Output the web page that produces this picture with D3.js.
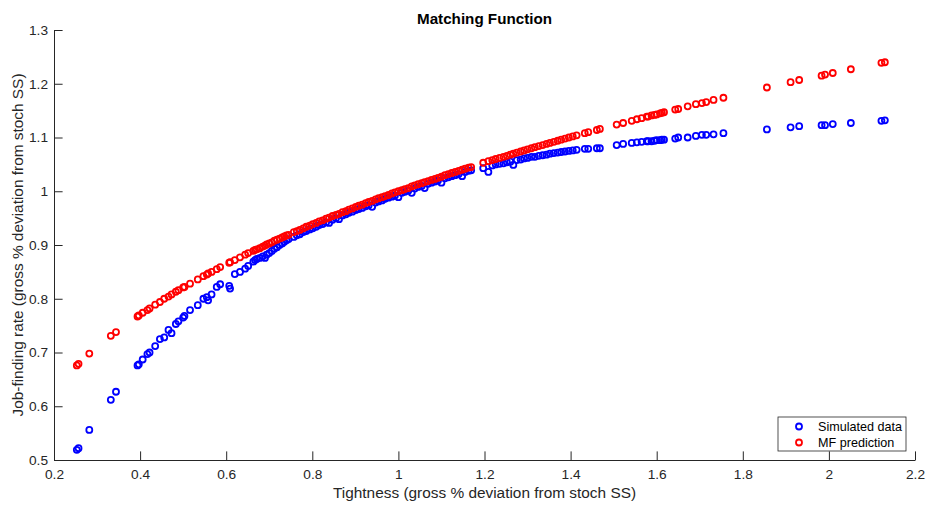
<!DOCTYPE html>
<html>
<head>
<meta charset="utf-8">
<script src="https://cdn.jsdelivr.net/npm/d3@7"></script>
<style>
	body { margin: 0; background: #fff; }
	svg { font-family: 'Liberation Sans', Arial, sans-serif; }
</style>
</head>
<body>
<svg width="927" height="506"></svg>
<script>
// matching function scatter: simulated vs predicted job-finding rate

// tightness (x) shared by both series
var tightness = [
	0.253, 0.257, 0.282, 0.332, 0.344,
	0.394, 0.397, 0.406, 0.417, 0.422, 0.435, 0.446, 0.456, 0.466, 0.473,
	0.483, 0.489, 0.500, 0.503, 0.516, 0.534, 0.547, 0.555, 0.558, 0.566,
	0.578, 0.586, 0.607, 0.609, 0.620, 0.632, 0.644, 0.651, 0.663, 0.667, 0.671,
	0.678, 0.685, 0.690, 0.694, 0.700, 0.706, 0.712, 0.718, 0.724, 0.730,
	0.735, 0.740, 0.745,
	0.757, 0.764, 0.771, 0.779, 0.786, 0.794, 0.801, 0.809, 0.816, 0.824,
	0.832, 0.839, 0.847, 0.855, 0.862, 0.870, 0.878, 0.885, 0.893, 0.901,
	0.908, 0.916, 0.924, 0.931, 0.939, 0.947, 0.954, 0.962, 0.969, 0.977,
	0.985, 0.992, 1.000, 1.008, 1.015, 1.023, 1.031, 1.038, 1.046, 1.054,
	1.061, 1.069, 1.077, 1.085, 1.092, 1.100, 1.108, 1.116, 1.124, 1.132,
	1.140, 1.148, 1.155, 1.163, 1.169,
	1.197, 1.209, 1.218, 1.226, 1.235, 1.244, 1.252, 1.260, 1.267, 1.275,
	1.284, 1.292, 1.300, 1.309, 1.317, 1.326, 1.335, 1.344, 1.352, 1.361,
	1.370, 1.378, 1.387, 1.396, 1.405, 1.414,
	1.433, 1.441, 1.461, 1.468, 1.507, 1.522, 1.542, 1.554, 1.565, 1.577,
	1.580, 1.588, 1.595, 1.600, 1.608, 1.612, 1.617, 1.643, 1.650, 1.672,
	1.691, 1.705, 1.715, 1.732, 1.755,
	1.856, 1.911, 1.931, 1.983, 1.991, 2.009, 2.051, 2.122, 2.130
];

// simulated data (blue)
var simulated = [
	0.519, 0.522, 0.556, 0.612, 0.627,
	0.676, 0.678, 0.687, 0.697, 0.700, 0.712, 0.725, 0.728, 0.742, 0.736,
	0.753, 0.758, 0.765, 0.768, 0.779, 0.788, 0.800, 0.803, 0.797, 0.808,
	0.822, 0.827, 0.824, 0.819, 0.846, 0.850, 0.856, 0.861, 0.869, 0.872, 0.874,
	0.876, 0.879, 0.876, 0.882, 0.885, 0.889, 0.893, 0.896, 0.900, 0.903,
	0.906, 0.909, 0.911,
	0.915, 0.918, 0.920, 0.924, 0.926, 0.929, 0.931, 0.934, 0.937, 0.939,
	0.942, 0.941, 0.947, 0.950, 0.948, 0.955, 0.957, 0.960, 0.962, 0.965,
	0.967, 0.969, 0.972, 0.974, 0.971, 0.979, 0.981, 0.983, 0.986, 0.988,
	0.990, 0.992, 0.989, 0.997, 0.999, 1.001, 0.997, 1.005, 1.008, 1.010,
	1.006, 1.014, 1.016, 1.018, 1.020, 1.016, 1.024, 1.026, 1.028, 1.030,
	1.032, 1.028, 1.036, 1.038, 1.039,
	1.043, 1.036, 1.048, 1.050, 1.051, 1.052, 1.054, 1.055, 1.049, 1.058,
	1.059, 1.061, 1.062, 1.064, 1.064, 1.066, 1.067, 1.068, 1.070, 1.071,
	1.072, 1.073, 1.074, 1.075, 1.076, 1.077,
	1.079, 1.079, 1.080, 1.080, 1.086, 1.088, 1.090, 1.091, 1.092, 1.093,
	1.093, 1.093, 1.094, 1.095, 1.095, 1.096, 1.096, 1.098, 1.100, 1.100,
	1.103, 1.105, 1.105, 1.106, 1.108,
	1.115, 1.119, 1.121, 1.123, 1.123, 1.125, 1.127, 1.131, 1.132
];

// MF prediction (red)
var predicted = [
	0.676, 0.679, 0.698, 0.731, 0.738,
	0.767, 0.769, 0.774, 0.779, 0.782, 0.789, 0.794, 0.800, 0.804, 0.808,
	0.813, 0.816, 0.821, 0.822, 0.828, 0.836, 0.842, 0.845, 0.847, 0.850,
	0.855, 0.859, 0.867, 0.868, 0.872, 0.877, 0.882, 0.885, 0.889, 0.891, 0.892,
	0.894, 0.897, 0.899, 0.901, 0.903, 0.905, 0.908, 0.910, 0.912, 0.914,
	0.916, 0.918, 0.919,
	0.924, 0.926, 0.928, 0.931, 0.934, 0.936, 0.939, 0.941, 0.944, 0.946,
	0.949, 0.951, 0.954, 0.956, 0.958, 0.961, 0.963, 0.966, 0.968, 0.971,
	0.973, 0.975, 0.978, 0.980, 0.982, 0.985, 0.987, 0.989, 0.991, 0.993,
	0.996, 0.998, 1.000, 1.002, 1.004, 1.006, 1.009, 1.011, 1.013, 1.015,
	1.017, 1.019, 1.021, 1.023, 1.025, 1.027, 1.030, 1.032, 1.034, 1.036,
	1.038, 1.040, 1.042, 1.044, 1.045,
	1.053, 1.056, 1.058, 1.060, 1.062, 1.064, 1.066, 1.068, 1.070, 1.072,
	1.074, 1.076, 1.078, 1.080, 1.082, 1.084, 1.086, 1.088, 1.090, 1.092,
	1.094, 1.096, 1.098, 1.100, 1.102, 1.104,
	1.108, 1.110, 1.114, 1.116, 1.124, 1.127, 1.131, 1.134, 1.136, 1.139,
	1.139, 1.141, 1.142, 1.143, 1.145, 1.146, 1.147, 1.152, 1.153, 1.158,
	1.162, 1.164, 1.166, 1.170, 1.174,
	1.193, 1.203, 1.207, 1.215, 1.217, 1.220, 1.227, 1.239, 1.240
];

var xTicks = [0.2, 0.4, 0.6, 0.8, 1, 1.2, 1.4, 1.6, 1.8, 2, 2.2];
var yTicks = [0.5, 0.6, 0.7, 0.8, 0.9, 1, 1.1, 1.2, 1.3];
var seriesNames = ['Simulated data', 'MF prediction'];
var seriesColors = ['#0000ff', '#ff0000'];

var svg = d3.select('svg');
var margin = { left: 54, right: 12, top: 30, bottom: 46 };
var width = +svg.attr('width'),
	height = +svg.attr('height');
var axisColor = '#262626';

var x = d3.scaleLinear().domain([0.2, 2.2]).range([margin.left, width - margin.right]);
var y = d3.scaleLinear().domain([0.5, 1.3]).range([height - margin.bottom, margin.top]);

var fmt = function(d) { return String(+d.toFixed(1)); };

// axes, ticks pointing inward
var gx = svg.append('g')
	.attr('transform', 'translate(0,' + (height - margin.bottom) + ')')
	.call(d3.axisBottom(x).tickValues(xTicks).tickFormat(fmt).tickSizeInner(-8.6).tickSizeOuter(0).tickPadding(9.5));
var gy = svg.append('g')
	.attr('transform', 'translate(' + margin.left + ',0)')
	.call(d3.axisLeft(y).tickValues(yTicks).tickFormat(fmt).tickSizeInner(-8.6).tickSizeOuter(0).tickPadding(6));

[gx, gy].forEach(function(g) {
	g.attr('font-family', null).attr('font-size', 13.7);
	g.selectAll('path, line').attr('stroke', axisColor);
	g.selectAll('text').attr('fill', axisColor);
});

// points, blue first then red on top
var plot = svg.append('g');
[simulated, predicted].forEach(function(vals, s) {
	plot.append('g')
		.selectAll('circle')
		.data(tightness.map(function(t, i) { return [t, vals[i]]; }))
		.enter()
		.append('circle')
		.attr('cx', function(d) { return x(d[0]); })
		.attr('cy', function(d) { return y(d[1]); })
		.attr('r', 3)
		.attr('fill', 'none')
		.attr('stroke', seriesColors[s])
		.attr('stroke-width', 1.8);
});

// title and axis labels
svg.append('text')
	.attr('x', (x.range()[0] + x.range()[1]) / 2)
	.attr('y', 24)
	.attr('text-anchor', 'middle')
	.attr('font-size', 15.2)
	.attr('font-weight', 'bold')
	.attr('fill', '#000')
	.text('Matching Function');

svg.append('text')
	.attr('x', (x.range()[0] + x.range()[1]) / 2)
	.attr('y', 498)
	.attr('text-anchor', 'middle')
	.attr('font-size', 15.4)
	.attr('fill', axisColor)
	.text('Tightness (gross % deviation from stoch SS)');

svg.append('text')
	.attr('transform', 'translate(22.5,' + (y.range()[0] + y.range()[1]) / 2 + ') rotate(-90)')
	.attr('text-anchor', 'middle')
	.attr('font-size', 15.4)
	.attr('fill', axisColor)
	.text('Job-finding rate (gross % deviation from stoch SS)');

// legend
var legend = svg.append('g').attr('transform', 'translate(778,417)');
legend.append('rect')
	.attr('width', 128)
	.attr('height', 34)
	.attr('fill', '#fff')
	.attr('stroke', axisColor)
	.attr('stroke-width', 0.8);
seriesNames.forEach(function(name, i) {
	legend.append('circle')
		.attr('cx', 21)
		.attr('cy', 9.5 + i * 16)
		.attr('r', 3)
		.attr('fill', 'none')
		.attr('stroke', seriesColors[i])
		.attr('stroke-width', 1.8);
	legend.append('text')
		.attr('x', 40)
		.attr('y', 9.5 + i * 16)
		.attr('dy', '0.35em')
		.attr('font-size', 12.6)
		.attr('fill', '#000')
		.text(name);
});
</script>
</body>
</html>
